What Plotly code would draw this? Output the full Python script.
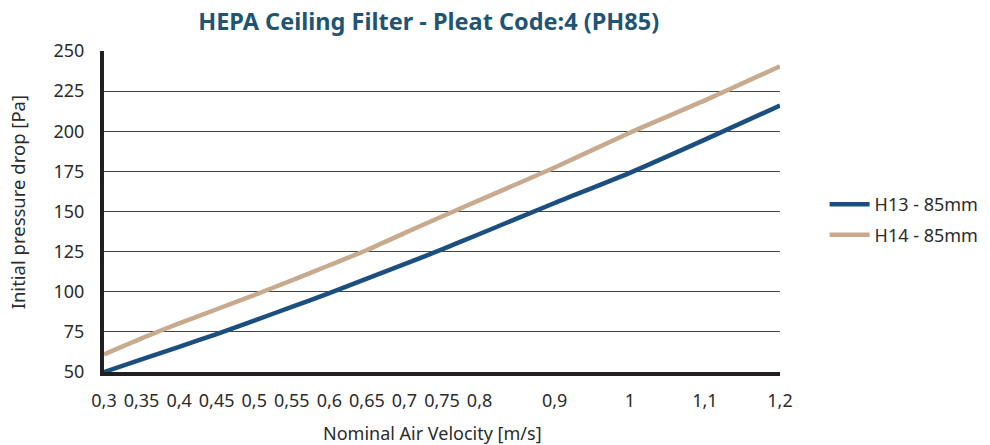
import plotly.graph_objects as go

velocity = [0.3, 0.35, 0.4, 0.45, 0.5, 0.55, 0.6, 0.65, 0.7, 0.75, 0.8, 0.9, 1.0, 1.1, 1.2]
h13 = [50, 57.9, 65.7, 73.6, 82.0, 90.6, 99.1, 108.2, 117.2, 126.4, 136.0, 155.3, 174.1, 194.8, 216]
h14 = [61, 71, 80.3, 89.1, 97.9, 107.1, 116.5, 126.0, 136.5, 146.9, 157.1, 177.4, 199.1, 219.2, 240.5]

x_tickvals = [0.3, 0.35, 0.4, 0.45, 0.5, 0.55, 0.6, 0.65, 0.7, 0.75, 0.8, 0.9, 1.0, 1.1, 1.2]
x_ticktext = ["0,3", "0,35", "0,4", "0,45", "0,5", "0,55", "0,6", "0,65", "0,7", "0,75", "0,8", "0,9", "1", "1,1", "1,2"]
y_tickvals = [50, 75, 100, 125, 150, 175, 200, 225, 250]

series_names = ["H13 - 85mm", "H14 - 85mm"]
colors = ["#1a4f80", "#c8aa8e"]

FONT = "Noto Sans"
TXT = "#2b2b2b"

fig = go.Figure()
for name, ys, c in zip(series_names, [h13, h14], colors):
    fig.add_trace(go.Scatter(
        x=velocity, y=ys, mode="lines", name=name, legendgroup=name,
        line=dict(color=c, width=4.5, shape="spline", smoothing=0.6),
    ))

fig.update_layout(
    width=990, height=445,
    margin=dict(l=104, r=210, t=51, b=73, autoexpand=False),
    paper_bgcolor="white", plot_bgcolor="white",
    font=dict(family=FONT, size=18, color=TXT),
    title=dict(text="<b>HEPA Ceiling Filter - Pleat Code:4 (PH85)</b>",
               x=0.433, xanchor="center", y=0.95, yanchor="middle",
               font=dict(family=FONT, size=23.5, color="#1f5474")),
    showlegend=True,
    legend=dict(x=1.066, xanchor="left", y=0.475, yanchor="middle",
                font=dict(family=FONT, size=18, color=TXT),
                tracegroupgap=4, itemwidth=40),
    xaxis=dict(range=[0.3, 1.2], tickmode="array", tickvals=x_tickvals, ticktext=x_ticktext,
               showgrid=False, zeroline=False, showline=True, linecolor="#231f20", linewidth=4,
               ticks="", ticklabelstandoff=9, automargin=False,
               tickfont=dict(family=FONT, size=18, color=TXT)),
    yaxis=dict(range=[50, 250], tickmode="array", tickvals=y_tickvals,
               showgrid=True, gridcolor="#444444", gridwidth=1,
               zeroline=False, showline=True, linecolor="#231f20", linewidth=4,
               ticks="", ticklabelstandoff=12, automargin=False,
               tickfont=dict(family=FONT, size=18, color=TXT)),
    annotations=[
        dict(text="Nominal Air Velocity [m/s]", xref="paper", yref="paper",
             x=0.486, y=-0.19, xanchor="center", yanchor="middle", showarrow=False,
             font=dict(family=FONT, size=18, color=TXT)),
        dict(text="Initial pressure drop [Pa]", xref="paper", yref="paper",
             x=-0.128, y=0.53, xanchor="center", yanchor="middle", showarrow=False,
             textangle=-90, font=dict(family=FONT, size=18.5, color=TXT)),
    ],
)

fig.write_html("out.html", config={"displayModeBar": False},
               post_script="document.body.style.margin='0';")
